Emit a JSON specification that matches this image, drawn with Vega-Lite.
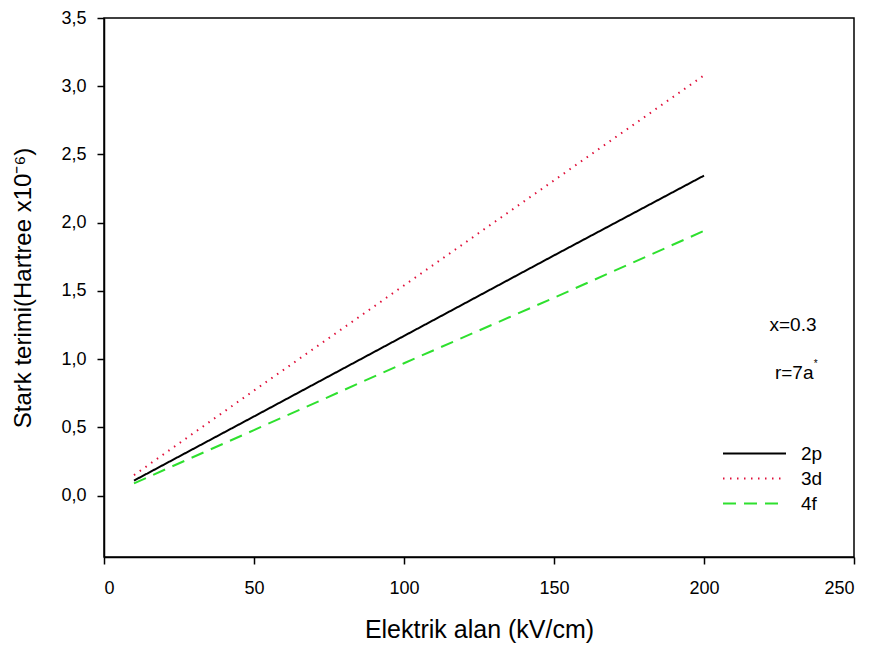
{
  "$schema": "https://vega.github.io/schema/vega-lite/v6.json",
  "width": 750,
  "height": 539,
  "autosize": {"type": "none"},
  "padding": {"left": 104, "top": 18, "right": 23, "bottom": 94},
  "background": "white",
  "config": {
    "view": {"stroke": "black", "strokeWidth": 1.5},
    "font": "Liberation Sans",
    "axis": {
      "grid": false,
      "domainColor": "black",
      "domainWidth": 1.5,
      "tickColor": "black",
      "tickWidth": 1.5,
      "tickSize": 7,
      "labelColor": "black",
      "titleColor": "black",
      "labelFont": "Liberation Sans",
      "titleFont": "Liberation Sans",
      "labelFontSize": 18,
      "titleFontSize": 24,
      "titleFontWeight": "normal"
    }
  },
  "datasets": {
    "lines": [
      {"E": 10, "S": 0.11, "orbital": "2p"},
      {"E": 50, "S": 0.58, "orbital": "2p"},
      {"E": 100, "S": 1.17, "orbital": "2p"},
      {"E": 150, "S": 1.76, "orbital": "2p"},
      {"E": 200, "S": 2.345, "orbital": "2p"},
      {"E": 10, "S": 0.15, "orbital": "3d"},
      {"E": 50, "S": 0.77, "orbital": "3d"},
      {"E": 100, "S": 1.54, "orbital": "3d"},
      {"E": 150, "S": 2.31, "orbital": "3d"},
      {"E": 200, "S": 3.08, "orbital": "3d"},
      {"E": 10, "S": 0.09, "orbital": "4f"},
      {"E": 50, "S": 0.48, "orbital": "4f"},
      {"E": 100, "S": 0.97, "orbital": "4f"},
      {"E": 150, "S": 1.45, "orbital": "4f"},
      {"E": 200, "S": 1.94, "orbital": "4f"}
    ],
    "notes": [
      {"E": 237.5, "S": 1.25, "label": "x=0.3"},
      {"E": 236.5, "S": 0.9, "label": "r=7a"}
    ],
    "stars": [
      {"E": 236.6, "S": 0.965, "label": "*"}
    ]
  },
  "layer": [
    {
      "data": {"name": "lines"},
      "mark": {"type": "line", "strokeWidth": 2},
      "encoding": {
        "x": {
          "field": "E", "type": "quantitative",
          "scale": {"domain": [0, 250], "nice": false, "zero": false},
          "axis": {"values": [0, 50, 100, 150, 200, 250], "title": "Elektrik alan (kV/cm)", "labelPadding": 15, "titlePadding": 20, "titleFontSize": 25}
        },
        "y": {
          "field": "S", "type": "quantitative",
          "scale": {"domain": [-0.45, 3.5], "nice": false, "zero": false},
          "axis": {
            "values": [0, 0.5, 1, 1.5, 2, 2.5, 3, 3.5],
            "labelExpr": "replace(format(datum.value, '.1f'), '.', ',')",
            "title": "Stark terimi(Hartree x10⁻⁶)",
            "labelPadding": 11,
            "titlePadding": 25
          }
        },
        "color": {
          "field": "orbital", "type": "nominal",
          "scale": {"domain": ["2p", "3d", "4f"], "range": ["#000000", "#e0103a", "#2ee02e"]},
          "legend": {
            "orient": "none", "legendX": 618, "legendY": 423,
            "title": null, "symbolType": "stroke", "symbolSize": 3969,
            "symbolStrokeWidth": 2, "labelFontSize": 19, "labelColor": "black",
            "labelOffset": 14, "rowPadding": 0, "clipHeight": 25, "padding": 0, "labelFont": "Liberation Sans"
          }
        },
        "strokeDash": {
          "field": "orbital", "type": "nominal",
          "scale": {"domain": ["2p", "3d", "4f"], "range": [[1, 0], [1.5, 5.5], [13, 8]]},
          "legend": {
            "orient": "none", "legendX": 618, "legendY": 423,
            "title": null, "symbolType": "stroke", "symbolSize": 3969,
            "symbolStrokeWidth": 2, "labelFontSize": 19, "labelColor": "black",
            "labelOffset": 14, "rowPadding": 0, "clipHeight": 25, "padding": 0, "labelFont": "Liberation Sans"
          }
        }
      }
    },
    {
      "data": {"name": "notes"},
      "mark": {"type": "text", "align": "right", "baseline": "middle", "fontSize": 19, "color": "black", "font": "Liberation Sans"},
      "encoding": {
        "x": {"field": "E", "type": "quantitative"},
        "y": {"field": "S", "type": "quantitative"},
        "text": {"field": "label"}
      }
    },
    {
      "data": {"name": "stars"},
      "mark": {"type": "text", "align": "left", "baseline": "middle", "fontSize": 10, "color": "black", "font": "Liberation Sans"},
      "encoding": {
        "x": {"field": "E", "type": "quantitative"},
        "y": {"field": "S", "type": "quantitative"},
        "text": {"field": "label"}
      }
    }
  ]
}
